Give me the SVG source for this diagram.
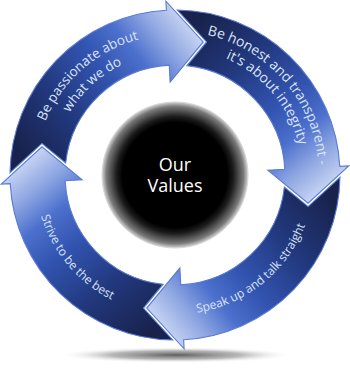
<svg xmlns="http://www.w3.org/2000/svg" xmlns:xlink="http://www.w3.org/1999/xlink" width="350" height="374" viewBox="0 0 350 374">
  <style>
    .arrow { fill: url(#gArrow); stroke: #5b7bd2; stroke-width: 1.1; stroke-linejoin: miter; }
    .lbl { font-family: "Open Sans", "Noto Sans", "Liberation Sans", sans-serif; fill: #dbe4f7; text-anchor: middle; }
    .fs-a { font-size: 13.5px; }
    .fs-b { font-size: 14px; }
    .fs-s { font-size: 12px; }
    .ctr { font-family: "Open Sans", "Noto Sans", "Liberation Sans", sans-serif; font-size: 18px; fill: #ffffff; text-anchor: middle; }
  </style>
  <defs>
    <linearGradient id="gArrow" gradientUnits="userSpaceOnUse" x1="38" y1="175" x2="203" y2="42">
      <stop offset="0" stop-color="#18224c"/>
      <stop offset="0.3" stop-color="#22397f"/>
      <stop offset="0.55" stop-color="#3254b0"/>
      <stop offset="0.72" stop-color="#4c70cd"/>
      <stop offset="0.86" stop-color="#8ea6e2"/>
      <stop offset="1" stop-color="#c6d3f2"/>
    </linearGradient>
    <radialGradient id="gCenter" gradientUnits="userSpaceOnUse" cx="175" cy="175" r="73">
      <stop offset="0" stop-color="#000"/>
      <stop offset="0.72" stop-color="#000"/>
      <stop offset="0.80" stop-color="#1c1c1c"/>
      <stop offset="0.94" stop-color="#7a7a7a"/>
      <stop offset="0.97" stop-color="#a8a8a8"/>
      <stop offset="1" stop-color="#cfcfcf"/>
    </radialGradient>
    <radialGradient id="gShadow">
      <stop offset="0" stop-color="#555" stop-opacity="0.95"/>
      <stop offset="0.55" stop-color="#888" stop-opacity="0.6"/>
      <stop offset="1" stop-color="#fff" stop-opacity="0"/>
    </radialGradient>
    <path id="arrowShape" d="M10.02,172.67 A165,165 0 0 1 166.36,10.23 L165.89,1.24 L203.28,41.97 L170.13,82.13 L169.24,65.15 A110,110 0 0 0 65.66,163.01 L41.92,143.41 Z"/>
    <path id="tA1" d="M37.32,202.51 A140.4,140.4 0 0 1 220.02,42.01"/>
    <path id="tA2" d="M55.50,201.49 A122.4,122.4 0 0 1 211.81,58.26"/>
    <path id="tB1" d="M148.79,33.61 A143.8,143.8 0 0 1 310.55,223.00"/>
    <path id="tB2" d="M152.89,49.63 A127.3,127.3 0 0 1 294.62,218.54"/>
    <path id="tC" d="M125.01,305.23 A139.5,139.5 0 0 0 312.78,153.18"/>
    <path id="tD" d="M43.44,127.12 A140,140 0 0 0 199.31,312.87"/>
  </defs>

  <ellipse id="shadow" cx="176" cy="355" rx="118" ry="8" fill="url(#gShadow)"/>

  <g id="arrow-passionate">
    <use xlink:href="#arrowShape" href="#arrowShape" class="arrow"/>
    <text class="lbl fs-a"><textPath xlink:href="#tA1" href="#tA1" startOffset="50%">Be passionate about</textPath><textPath xlink:href="#tA2" href="#tA2" startOffset="50%">what we do</textPath></text>
  </g>

  <g id="arrow-honest">
    <use xlink:href="#arrowShape" href="#arrowShape" class="arrow" transform="rotate(90 175 175)"/>
    <text class="lbl fs-b"><textPath xlink:href="#tB1" href="#tB1" startOffset="50%">Be honest and transparent -</textPath><textPath xlink:href="#tB2" href="#tB2" startOffset="50%">it's about integrity</textPath></text>
  </g>

  <g id="arrow-speak">
    <use xlink:href="#arrowShape" href="#arrowShape" class="arrow" transform="rotate(180 175 175)"/>
    <text class="lbl fs-s"><textPath xlink:href="#tC" href="#tC" startOffset="50%">Speak up and talk straight</textPath></text>
  </g>

  <g id="arrow-strive">
    <use xlink:href="#arrowShape" href="#arrowShape" class="arrow" transform="rotate(270 175 175)"/>
    <text class="lbl fs-s"><textPath xlink:href="#tD" href="#tD" startOffset="50%">Strive to be the best</textPath></text>
  </g>

  <g id="center">
    <circle cx="175" cy="175" r="73" fill="url(#gCenter)" stroke="#d6d6d6" stroke-width="1"/>
    <text class="ctr"><tspan x="175" y="170.5">Our</tspan><tspan x="175" y="191.5">Values</tspan></text>
  </g>

  <g id="connectors"></g>
</svg>
